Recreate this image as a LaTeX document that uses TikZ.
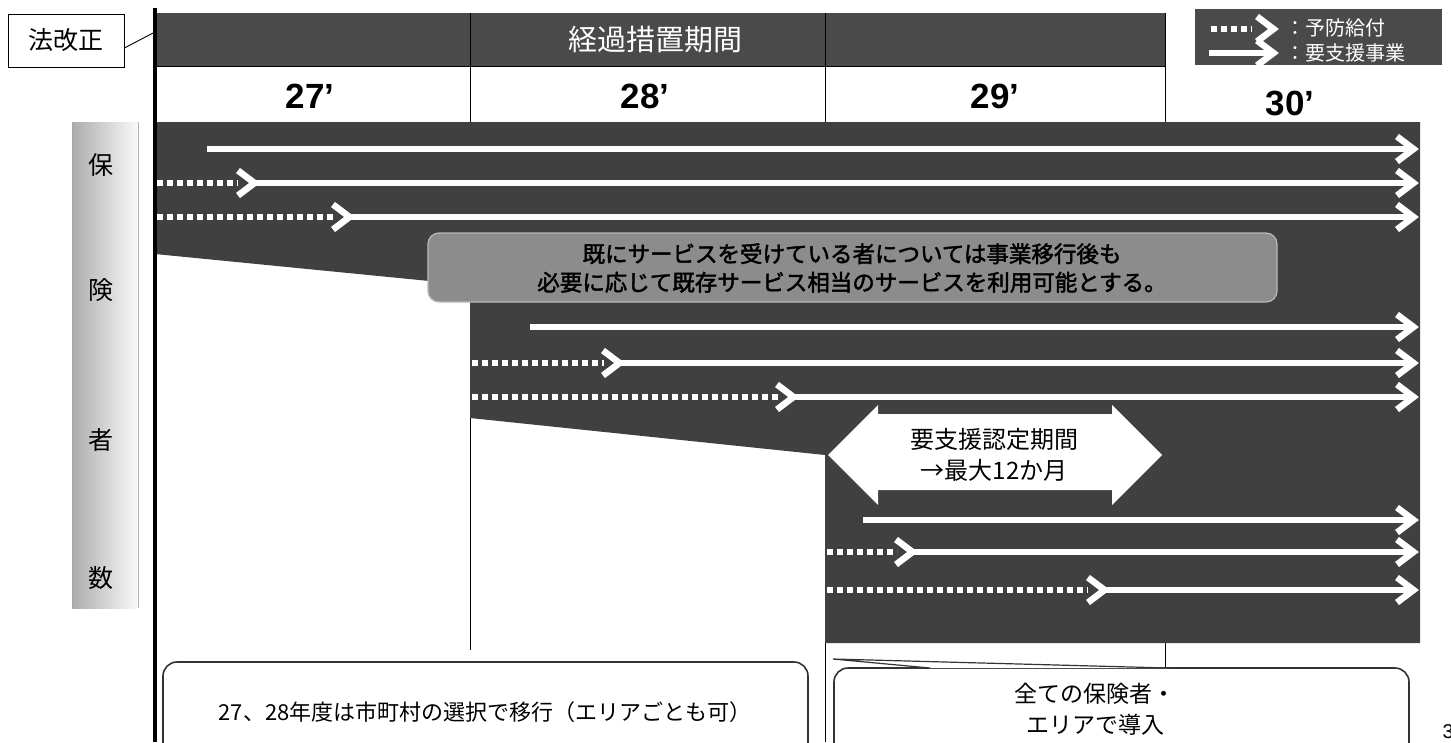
\documentclass[tikz,border=0pt]{standalone}
\usepackage{fontspec}
\setmainfont{Liberation Sans}
\newfontfamily\jp{Noto Sans CJK JP}[AutoFakeBold=2]
\usetikzlibrary{arrows.meta}
\definecolor{dark}{HTML}{404040}
\definecolor{bar}{HTML}{4A4A4A}
\definecolor{mid}{HTML}{8C8C8C}
\tikzset{
  sol/.style={white,line width=6.5pt},
  dotl/.style={white,line width=6.5pt,dash pattern=on 6pt off 4pt},
  chev/.pic={\draw[white,line width=6.5pt,line join=miter,miter limit=10] (-22,-12.5)--(-5.5,0)--(-22,12.5);},
  thinl/.style={black,line width=0.9pt},
  boxl/.style={gray!40!black,line width=1.6pt},
}
\newcommand{\fs}[1]{\fontsize{#1}{#1}\selectfont}
\begin{document}
\begin{tikzpicture}[x=1pt,y=-1pt]
\clip (0,0) rectangle (1451,742);
\fill[white] (0,0) rectangle (1451,742);

% thin vertical grid lines
\draw[thinl] (470,66) -- (470,650);
\draw[thinl] (825,66) -- (825,742);
\draw[thinl] (1165,66) -- (1165,668);

% header bar
\fill[bar] (155,13) rectangle (1165,66);
\draw[black,line width=1pt] (470,13)--(470,66) (825,13)--(825,66);
\draw[thinl] (155,66) -- (1165,66) -- (1165,13);
\node[text=white,font=\jp\fs{29}] (kei) at (655,40) {経過措置期間};

% year row
\node[font=\bfseries\fs{35}] (y27) at (310,96) {27’};
\node[font=\bfseries\fs{35}] (y28) at (645,96) {28’};
\node[font=\bfseries\fs{35}] (y29) at (995,96) {29’};
\node[font=\bfseries\fs{35}] (y30) at (1290,103) {30’};

% main dark area
\fill[dark] (155,122) -- (1420,122) -- (1420,643) -- (825,643) -- (825,455)
  -- (470,418) -- (470,285) -- (155,254) -- cycle;

% left thick axis line
\draw[black,line width=4pt] (155,8) -- (155,742);

% law revision box
\node[draw,thinl,minimum width=116pt,minimum height=53pt,font=\jp\fs{25}] (law) at (66,40.5) {法改正};
\coordinate (lawend) at (155,32);
\draw[thinl] (law.east |- 0,48) -- (lawend);

% legend
\fill[bar] (1195,9) rectangle (1442,65);
\draw[dotl] (1211,29) -- (1252,29);
\draw[sol] (1209,53) -- (1272,53);
\pic at (1279,29) {chev};
\pic at (1279,53) {chev};
\node[anchor=west,text=white,font=\jp\fs{20}] (lg1) at (1282,28) {：予防給付};
\node[anchor=west,text=white,font=\jp\fs{20}] (lg2) at (1282,53) {：要支援事業};

% arrows group 1
\draw[sol] (207,149) -- (1414,149);
\pic at (1419,149) {chev};
\draw[dotl] (157,183) -- (238,183);
\draw[sol] (252,183) -- (1414,183);
\pic at (260,183) {chev};
\pic at (1419,183) {chev};
\draw[dotl] (157,217) -- (334,217);
\draw[sol] (348,217) -- (1414,217);
\pic at (355,217) {chev};
\pic at (1419,217) {chev};

% grey note box
\path[draw=gray!55,line width=1.2pt,fill=mid,rounded corners=11pt] (428,233) rectangle (1277,302);
\node[font=\jp\bfseries\fs{22.5},align=center,inner sep=0pt] (note) at (852,268)
  {既にサービスを受けている者については事業移行後も\\[6pt]必要に応じて既存サービス相当のサービスを利用可能とする。};

% arrows group 2
\draw[sol] (530,327) -- (1414,327);
\pic at (1419,327) {chev};
\draw[dotl] (472,363) -- (604,363);
\draw[sol] (617,363) -- (1414,363);
\pic at (625,363) {chev};
\pic at (1419,363) {chev};
\draw[dotl] (472,397) -- (778,397);
\draw[sol] (791,397) -- (1414,397);
\pic at (799,397) {chev};
\pic at (1419,397) {chev};

% double arrow
\fill[white] (828,455) -- (878,405) -- (878,414) -- (1112,414) -- (1112,405) -- (1162,455)
  -- (1112,505) -- (1112,490) -- (878,490) -- (878,505) -- cycle;
\node[font=\jp\fs{24},align=center,inner sep=0pt] (nin) at (994,455) {要支援認定期間\\[7pt]→最大12か月};

% arrows group 3
\draw[sol] (863,520) -- (1414,520);
\pic at (1419,520) {chev};
\draw[dotl] (827,552) -- (897,552);
\draw[sol] (910,552) -- (1414,552);
\pic at (918,552) {chev};
\pic at (1419,552) {chev};
\draw[dotl] (827,590) -- (1088,590);
\draw[sol] (1102,590) -- (1414,590);
\pic at (1110,590) {chev};
\pic at (1419,590) {chev};

% left vertical label
\shade[left color=gray!65,right color=gray!4] (72,122) rectangle (138,608);
\draw[gray!60,line width=0.8pt] (138,122) -- (138,608);
\draw[gray!70,line width=1pt] (72,122) -- (72,608);
\node[font=\jp\fs{25}] (h1) at (101,165) {保};
\node[font=\jp\fs{25}] (h2) at (101,290) {険};
\node[font=\jp\fs{25}] (h3) at (101,440) {者};
\node[font=\jp\fs{25}] (h4) at (101,578) {数};

% bottom boxes
\draw[boxl,rounded corners=14pt] (163,760) -- (163,662) -- (808,662) -- (808,760);
\node[font=\jp\fs{22}] (b1) at (485,712) {27、28年度は市町村の選択で移行（エリアごとも可）};
\draw[boxl,rounded corners=14pt] (834,760) -- (834,668) -- (1409,668) -- (1409,760);
\fill[white] (833,659) -- (930,668) -- (1168,668) -- cycle;
\draw[boxl,line width=1.2pt] (930,668) -- (833,659) -- (1168,668);
\node[font=\jp\fs{23},align=center,inner sep=0pt] (b2) at (1095,709) {全ての保険者・\\[8pt]エリアで導入};

\node[anchor=west,font=\fs{20}] (pg) at (1439,732) {3};
\end{tikzpicture}
\end{document}
